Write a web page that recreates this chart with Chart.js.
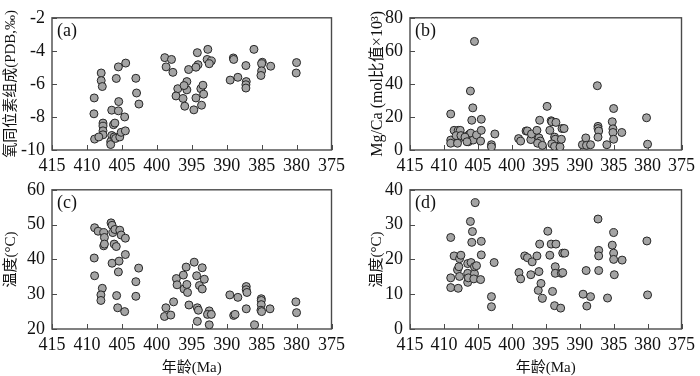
<!DOCTYPE html>
<html>
<head>
<meta charset="utf-8">
<script src="https://cdn.jsdelivr.net/npm/chart.js@4.4.1/dist/chart.umd.min.js"></script>
<style>
  body { margin: 0; background: #fff; }
  #wrap { position: relative; width: 700px; height: 376px; overflow: hidden; }
  canvas { position: absolute; }
</style>
</head>
<body>
<div id="wrap">
  <canvas id="pa" width="350" height="172" style="left:0;top:0"></canvas>
  <canvas id="pb" width="350" height="172" style="left:350px;top:0"></canvas>
  <canvas id="pc" width="350" height="204" style="left:0;top:172px"></canvas>
  <canvas id="pd" width="350" height="204" style="left:350px;top:172px"></canvas>
</div>
<script>
// --- x 轴刻度 (年龄, Ma) ---
const ageTicks = [415, 410, 405, 400, 395, 390, 385, 380, 375];

// (a) 氧同位素组成
const ageA = [408.96, 409.0, 407.96, 407.96, 407.8, 407.7, 407.7, 407.7, 407.7, 408.9, 408.3, 406.45, 406.6, 406.6, 406.1, 405.9, 405.3, 405.1, 404.5, 406.2, 406.0, 406.45, 405.5, 405.45, 404.6, 405.8, 405.5, 404.45, 403.0, 402.9, 402.56,
  398.86, 397.9, 398.67, 397.7, 395.45, 394.2, 392.7, 394.1, 394.4, 392.8, 392.2, 392.5, 397.0, 397.25, 396.25, 396.0, 395.7, 395.7, 396.1, 394.7, 393.6, 394.4, 393.7, 393.4, 393.3,
  389.05, 389.0, 389.5, 388.4, 387.25, 386.1, 387.2, 387.25, 387.25, 384.9, 385.0, 385.0, 385.1, 383.7, 380.0, 380.05];
const o18A = [-6.85, -7.81, -5.34, -5.80, -6.16, -8.37, -8.56, -8.84, -9.08, -9.34, -9.21, -9.12, -9.49, -9.67, -9.21, -9.30, -9.21, -8.93, -8.84, -8.47, -8.37, -7.59, -7.63, -7.07, -8.0, -5.67, -4.97, -4.74, -5.66, -6.55, -7.22,
  -4.41, -4.52, -4.97, -5.30, -5.13, -4.11, -3.91, -4.84, -4.99, -4.52, -4.61, -4.78, -6.29, -6.73, -6.88, -7.35, -5.86, -6.36, -6.10, -7.57, -7.29, -6.85, -6.29, -6.08, -6.62,
  -4.43, -4.52, -5.77, -5.60, -4.89, -3.91, -5.86, -6.05, -6.25, -4.69, -4.78, -5.21, -5.49, -4.93, -4.71, -5.34];

// (b) Mg/Ca
const ageB = [409.0, 409.0, 409.0, 408.5, 407.9, 407.6, 407.8, 408.0, 408.2, 407.5, 406.5, 406.2, 406.05, 406.4, 405.7, 405.2, 404.6, 404.5, 404.5, 405.9, 405.75, 406.1, 405.5, 403.0, 403.0, 402.5, 406.9, 406.6,
  399.0, 398.7, 397.9, 397.7, 397.2, 397.1, 396.3, 395.9, 396.0, 395.8, 396.2, 395.5, 394.8, 394.4, 394.2, 394.1, 393.5, 393.7, 393.6, 394.1, 393.7, 392.9, 392.7, 392.6, 392.3,
  389.6, 389.1, 389.0, 388.4, 387.4, 387.3, 387.3, 387.2, 387.3, 386.0, 385.0, 385.2, 385.1, 385.1, 385.0, 383.8, 380.15, 380.0];
const mgcaB = [21.8, 6.0, 4.1, 11.9, 11.9, 11.9, 6.9, 4.1, 8.7, 8.7, 8.7, 9.7, 10.2, 5.0, 6.0, 9.1, 5.4, 11.9, 18.6, 18.0, 25.5, 35.7, 65.7, 3.2, 1.9, 9.7, 7.8, 5.0,
  6.9, 5.4, 11.5, 11.5, 6.3, 9.7, 11.9, 18.0, 7.3, 5.4, 4.1, 2.8, 26.4, 11.9, 17.7, 17.1, 16.7, 7.8, 6.5, 3.7, 2.2, 1.9, 6.5, 13.0, 13.0,
  3.2, 7.3, 2.8, 3.2, 38.9, 14.3, 13.0, 11.5, 7.8, 3.2, 25.1, 17.1, 12.8, 10.6, 6.5, 10.6, 19.5, 3.5];

// (c) 温度 (由 δ18O)
const ageC = [408.9, 408.4, 407.6, 407.5, 407.6, 407.5, 408.96, 408.9, 407.8, 408.0, 408.0, 406.55, 406.4, 406.3, 406.0, 405.3, 405.1, 404.5, 406.1, 405.8, 406.4, 405.4, 404.5, 405.5, 405.75, 405.6, 404.6, 403.0, 402.6, 403.0,
  398.9, 398.7, 398.0, 397.6, 397.2, 397.1, 396.2, 395.8, 396.1, 395.7, 395.6, 395.4, 394.65, 394.3, 394.2, 394.05, 394.2, 393.9, 393.5, 393.5, 393.2, 392.5, 392.75, 392.2, 392.5,
  389.55, 388.4, 389.0, 388.8, 387.2, 387.2, 387.1, 387.2, 386.0, 385.05, 385.05, 385.05, 385.1, 385.0, 383.8, 380.1, 380.0];
const tempC = [49.1, 48.1, 47.7, 46.3, 43.9, 44.4, 40.4, 35.3, 31.7, 29.8, 28.2, 50.5, 49.8, 47.7, 48.6, 48.4, 47.0, 46.1, 44.4, 43.7, 38.9, 39.5, 41.4, 36.4, 29.6, 26.1, 25.0, 33.6, 37.5, 29.4,
  23.6, 26.1, 24.0, 27.8, 34.5, 32.7, 35.5, 37.8, 31.5, 32.8, 30.5, 26.9, 39.2, 35.3, 26.1, 25.4, 22.2, 32.5, 31.5, 37.6, 34.3, 25.2, 24.2, 24.2, 21.2,
  29.8, 29.1, 23.9, 24.2, 32.2, 31.3, 30.5, 25.8, 21.2, 28.7, 28.2, 27.0, 25.4, 25.0, 25.8, 27.8, 24.7];

// (d) 温度 (由 Mg/Ca)
const ageD = [409.0, 408.5, 409.0, 409.0, 407.9, 408.0, 407.8, 407.7, 407.7, 407.5, 406.5, 406.5, 406.5, 406.4, 406.0, 405.5, 405.6, 405.5, 405.2, 406.1, 405.8, 405.9, 405.4, 404.5, 404.5, 404.6, 402.6, 403.0, 403.0,
  398.95, 398.7, 398.1, 397.7, 397.2, 397.0, 396.3, 396.0, 395.9, 396.1, 395.7, 395.5, 394.7, 394.4, 394.2, 393.5, 393.6, 393.6, 394.0, 393.7, 392.8, 392.7, 392.5, 392.5, 392.2,
  389.5, 389.05, 388.95, 388.4, 387.3, 387.2, 387.2, 387.2, 385.9, 385.0, 385.2, 385.0, 385.0, 384.9, 383.75, 380.1, 380.0];
const tempD = [26.3, 21.0, 14.7, 11.9, 11.7, 17.0, 17.9, 15.1, 20.2, 21.2, 18.8, 16.0, 13.4, 14.7, 19.1, 15.9, 14.4, 17.9, 18.2, 30.9, 28.0, 24.9, 36.3, 25.2, 21.3, 14.2, 19.1, 9.3, 6.4,
  16.2, 14.4, 21.0, 20.5, 15.6, 19.3, 21.0, 16.5, 24.4, 11.1, 13.1, 8.8, 28.1, 21.2, 24.4, 24.4, 17.9, 16.0, 10.8, 6.7, 6.0, 16.0, 16.2, 21.8, 21.8,
  10.0, 16.8, 6.6, 9.3, 31.6, 22.6, 21.0, 16.8, 8.9, 27.7, 24.1, 21.8, 20.0, 15.6, 19.8, 25.3, 9.8];

const SERIF = '"Liberation Serif", "Noto Sans CJK SC", serif';

// 边框 + 内向刻度 + (a)(b) 标签
const frameTicks = {
  id: 'frameTicks',
  beforeDatasetsDraw(chart, args, opts) {
    const { ctx, chartArea: a, scales: { x, y } } = chart;
    ctx.save();
    ctx.strokeStyle = '#4a4a4a';
    ctx.lineWidth = 1.4;
    ctx.strokeRect(a.left, a.top, a.right - a.left, a.bottom - a.top);
    ctx.beginPath();
    x.ticks.forEach(t => {
      const px = Math.round(x.getPixelForValue(t.value)) + 0.5;
      ctx.moveTo(px, a.bottom);
      ctx.lineTo(px, a.bottom - 5);
    });
    y.ticks.forEach(t => {
      const py = Math.round(y.getPixelForValue(t.value)) + 0.5;
      ctx.moveTo(a.left, py);
      ctx.lineTo(a.left + 5, py);
    });
    ctx.lineWidth = 1;
    ctx.stroke();
    ctx.font = '18px ' + SERIF;
    ctx.fillStyle = '#111';
    ctx.textBaseline = 'top';
    ctx.fillText(opts.tag, a.left + 5, a.top + 4);
    ctx.restore();
  }
};

function makePanel(id, ages, vals, p) {
  return new Chart(document.getElementById(id), {
    type: 'scatter',
    data: {
      datasets: [{
        data: ages.map((a, i) => ({ x: a, y: vals[i] })),
        backgroundColor: '#a4a4a4',
        borderColor: '#262626',
        borderWidth: 1,
        pointRadius: 4,
        pointHoverRadius: 4
      }]
    },
    options: {
      responsive: false,
      animation: false,
      layout: { padding: { top: p.top, right: p.right, left: 0, bottom: 0 } },
      plugins: {
        legend: { display: false },
        tooltip: { enabled: false },
        frameTicks: { tag: p.tag }
      },
      scales: {
        x: {
          type: 'linear',
          min: 375, max: 415, reverse: true,
          afterBuildTicks: s => { s.ticks = ageTicks.map(v => ({ value: v })); },
          afterFit: s => { s.height = p.xh; },
          grid: { display: false, drawTicks: false },
          border: { display: false },
          ticks: { color: '#111', font: { family: SERIF, size: 18 }, padding: 5, maxRotation: 0, autoSkip: false },
          title: {
            display: !!p.xTitle,
            text: p.xTitle || '',
            color: '#111',
            font: { family: SERIF, size: 15, lineHeight: 1.0 },
            padding: { top: 0, bottom: 0 }
          }
        },
        y: {
          type: 'linear',
          min: p.ymin, max: p.ymax,
          afterBuildTicks: s => { s.ticks = p.yticks.map(v => ({ value: v })); },
          afterFit: s => { s.width = p.yw; },
          grid: { display: false, drawTicks: false },
          border: { display: false },
          ticks: { color: '#111', font: { family: SERIF, size: 18 }, padding: 7 },
          title: {
            display: true,
            text: p.yTitle,
            color: '#111',
            font: { family: SERIF, size: p.ytSize },
            padding: { top: p.ytPad, bottom: 0 }
          }
        }
      }
    },
    plugins: [frameTicks]
  });
}

makePanel('pa', ageA, o18A, {
  tag: '(a)', top: 5, right: 15, xh: 22, yw: 52, ymin: -10, ymax: -2,
  yticks: [-10, -8, -6, -4, -2], yTitle: '氧同位素组成(PDB,‰)', ytSize: 15, ytPad: 2
});
makePanel('pb', ageB, mgcaB, {
  tag: '(b)', top: 5, right: 7, xh: 22, yw: 60, ymin: 0, ymax: 80,
  yticks: [0, 20, 40, 60, 80], yTitle: 'Mg/Ca (mol比值×10³)', ytSize: 16, ytPad: 18
});
makePanel('pc', ageC, tempC, {
  tag: '(c)', top: 13, right: 15, xh: 47, yw: 52, ymin: 20, ymax: 60,
  yticks: [20, 30, 40, 50, 60], yTitle: '温度(°C)', ytSize: 15, ytPad: 2, xTitle: '年龄(Ma)'
});
makePanel('pd', ageD, tempD, {
  tag: '(d)', top: 12, right: 8, xh: 47, yw: 60, ymin: 0, ymax: 40,
  yticks: [0, 10, 20, 30, 40], yTitle: '温度(°C)', ytSize: 15, ytPad: 18, xTitle: '年龄(Ma)'
});
</script>
</body>
</html>
